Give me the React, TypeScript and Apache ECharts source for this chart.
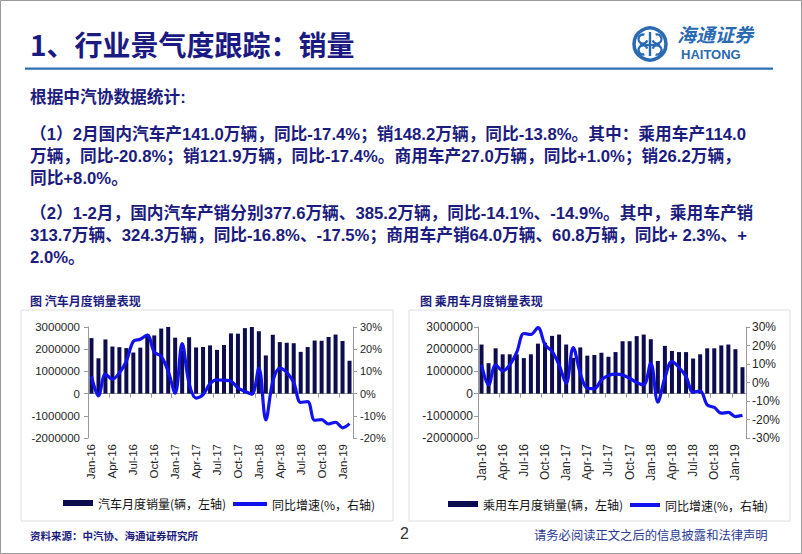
import React, { useEffect, useRef } from "react";
import * as echarts from "echarts";

const months = [
  "Jan-16","Feb-16","Mar-16","Apr-16","May-16","Jun-16","Jul-16","Aug-16","Sep-16","Oct-16","Nov-16","Dec-16",
  "Jan-17","Feb-17","Mar-17","Apr-17","May-17","Jun-17","Jul-17","Aug-17","Sep-17","Oct-17","Nov-17","Dec-17",
  "Jan-18","Feb-18","Mar-18","Apr-18","May-18","Jun-18","Jul-18","Aug-18","Sep-18","Oct-18","Nov-18","Dec-18",
  "Jan-19","Feb-19",
];

const autoSales = [
  2500000, 1590000, 2440000, 2120000, 2090000, 2050000, 1850000, 2070000, 2630000, 2620000, 2930000, 3050000,
  2520000, 1940000, 2540000, 2080000, 2100000, 2170000, 1970000, 2190000, 2710000, 2700000, 2950000, 3050000,
  2810000, 1720000, 2650000, 2320000, 2290000, 2270000, 1880000, 2100000, 2390000, 2380000, 2550000, 2660000,
  2370000, 1480000,
];

const autoYoy = [
  7.8, -1.0, 8.8, 6.5, 9.3, 14.6, 23.5, 24.5, 26.4, 18.7, 16.7, 10.0,
  0.2, 22.5, 4.5, -2.0, -0.5, 4.5, 6.2, 6.0, 5.6, 2.5, 1.0, -0.3,
  11.6, -11.9, 5.5, 11.5, 9.6, 5.0, -4.0, -3.6, -12.0, -11.7, -13.7, -12.9,
  -15.4, -13.5,
];

const pcSales = [
  2210000, 1370000, 2040000, 1770000, 1770000, 1770000, 1600000, 1770000, 2250000, 2290000, 2600000, 2660000,
  2210000, 1610000, 2080000, 1710000, 1740000, 1840000, 1660000, 1870000, 2360000, 2360000, 2590000, 2660000,
  2450000, 1470000, 2150000, 1920000, 1870000, 1870000, 1580000, 1770000, 2040000, 2040000, 2170000, 2210000,
  2000000, 1190000,
];

const pcYoy = [
  9.5, -1.3, 9.5, 6.3, 9.5, 16.4, 26.5, 26.0, 29.7, 20.4, 16.8, 9.5,
  -0.4, 18.9, 5.0, -3.1, -3.3, 1.4, 3.8, 4.5, 4.1, 2.3, 0.0, -1.3,
  10.5, -10.6, 2.5, 11.4, 8.1, 3.2, -5.2, -4.5, -12.1, -13.5, -16.6, -16.2,
  -18.4, -17.8,
];

const salesAxis = { min: -2000000, max: 3000000, interval: 1000000 };
const autoYoyAxis = { min: -20, max: 30, interval: 10 };
const pcYoyAxis = { min: -30, max: 30, interval: 10 };

const titleText = "1、行业景气度跟踪：销量";
const bodyLines = [
  "根据中汽协数据统计:",
  "（1）2月国内汽车产141.0万辆，同比-17.4%；销148.2万辆，同比-13.8%。其中：乘用车产114.0",
  "万辆，同比-20.8%；销121.9万辆，同比-17.4%。商用车产27.0万辆，同比+1.0%；销26.2万辆，",
  "同比+8.0%。",
  "（2）1-2月，国内汽车产销分别377.6万辆、385.2万辆，同比-14.1%、-14.9%。其中，乘用车产销",
  "313.7万辆、324.3万辆，同比-16.8%、-17.5%；商用车产销64.0万辆、60.8万辆，同比+ 2.3%、+",
  "2.0%。",
];
const bodyY = [97, 134, 156, 178, 213, 235, 257];

const chartTitles = ["图 汽车月度销量表现", "图 乘用车月度销量表现"];
const seriesNames = ["汽车月度销量(辆，左轴)", "同比增速(%，右轴)", "乘用车月度销量(辆，左轴)"];
const footerSource = "资料来源：中汽协、海通证券研究所";
const footerNote = "请务必阅读正文之后的信息披露和法律声明";
const pageNo = "2";

const LAT = '"Liberation Sans", Arial, "Noto Sans CJK SC", sans-serif';
const CJK = '"Noto Sans CJK SC", "Liberation Sans", sans-serif';
const NAVY = "#1c1c7e";
const BAR = "#0c0c4e";
const LINE = "#1212ee";
const AXIS = "#9a9a9a";
const LOGO = "#2a6ab2";

function txt(x: number, y: number, text: string, font: string, fill: string, align = "left") {
  return {
    type: "text",
    x,
    y,
    silent: true,
    style: {
      text,
      font,
      fill,
      align,
      verticalAlign: "middle",
      textAlign: align,
      textVerticalAlign: "middle",
    },
  };
}

function buildOption() {
  const xLabelAxis = (grid: number, fs: number) => ({
    type: "category",
    gridIndex: grid,
    data: months,
    position: "bottom",
    axisLine: { show: false, onZero: false },
    axisTick: { show: false },
    axisLabel: { interval: 2, rotate: 90, fontSize: fs, color: "#262626", margin: 6, fontFamily: LAT },
  });
  const xZeroAxis = (grid: number, yIdx: number) => ({
    type: "category",
    gridIndex: grid,
    data: months,
    position: "bottom",
    axisLine: { show: true, onZero: true, onZeroAxisIndex: yIdx, lineStyle: { color: AXIS, width: 1 } },
    axisTick: { show: true, interval: 2, length: 4, lineStyle: { color: AXIS } },
    axisLabel: { show: false },
  });
  const yAx = (grid: number, pos: string, rng: any, fs: number, margin: number, pct: boolean) => ({
    type: "value",
    gridIndex: grid,
    position: pos,
    min: rng.min,
    max: rng.max,
    interval: rng.interval,
    axisLine: { show: true, lineStyle: { color: AXIS } },
    axisTick: { show: true, length: 4, lineStyle: { color: AXIS } },
    splitLine: { show: false },
    axisLabel: {
      fontSize: fs,
      color: "#262626",
      margin,
      fontFamily: LAT,
      formatter: (v: number) => (pct ? `${v}%` : String(v)),
    },
  });
  const legendBase = { padding: 0, selectedMode: false, icon: "rect", textStyle: { fontSize: 12, color: "#111", fontFamily: CJK } };

  return {
    animation: false,
    backgroundColor: "#ffffff",
    grid: [
      { left: 88, top: 327, width: 265, height: 111 },
      { left: 478, top: 327, width: 268, height: 111 },
    ],
    xAxis: [xLabelAxis(0, 11.5), xZeroAxis(0, 0), xLabelAxis(1, 12), xZeroAxis(1, 2)],
    yAxis: [
      yAx(0, "left", salesAxis, 11.5, 8, false),
      yAx(0, "right", autoYoyAxis, 11, 7, true),
      yAx(1, "left", salesAxis, 12, 5, false),
      yAx(1, "right", pcYoyAxis, 12, 6, true),
    ],
    legend: [
      { ...legendBase, left: 63, top: 497, itemWidth: 30, itemHeight: 6, data: [seriesNames[0]] },
      { ...legendBase, left: 233, top: 498, itemWidth: 34, itemHeight: 4, data: [seriesNames[1]] },
      { ...legendBase, left: 448, top: 498, itemWidth: 30, itemHeight: 6, data: [seriesNames[2]] },
      { ...legendBase, left: 630, top: 499, itemWidth: 30, itemHeight: 4, data: [seriesNames[1]] },
    ],
    series: [
      { type: "bar", name: seriesNames[0], xAxisIndex: 0, yAxisIndex: 0, data: autoSales, barWidth: 4, itemStyle: { color: BAR } },
      { type: "line", name: seriesNames[1], xAxisIndex: 0, yAxisIndex: 1, data: autoYoy, smooth: 0.35, symbol: "none", z: 5, lineStyle: { color: LINE, width: 3.2 }, itemStyle: { color: LINE } },
      { type: "bar", name: seriesNames[2], xAxisIndex: 2, yAxisIndex: 2, data: pcSales, barWidth: 4, itemStyle: { color: BAR } },
      { type: "line", name: seriesNames[1], xAxisIndex: 2, yAxisIndex: 3, data: pcYoy, smooth: 0.35, symbol: "none", z: 5, lineStyle: { color: LINE, width: 3.2 }, itemStyle: { color: LINE } },
    ],
    graphic: [
      { type: "rect", silent: true, shape: { x: 0.5, y: 0.5, width: 801, height: 553 }, style: { fill: "none", stroke: "#9a9a9a", lineWidth: 1 } },
      txt(30, 44, titleText, `bold 28px ${CJK}`, "#1a1a82"),
      // logo
      { type: "circle", silent: true, shape: { cx: 650, cy: 44, r: 16 }, style: { fill: "#fff", stroke: LOGO, lineWidth: 3.5 } },
      { type: "line", silent: true, shape: { x1: 650, y1: 32, x2: 650, y2: 56 }, style: { stroke: LOGO, lineWidth: 2.4 } },
      { type: "line", silent: true, shape: { x1: 640, y1: 45, x2: 660, y2: 45 }, style: { stroke: LOGO, lineWidth: 2.2 } },
      { type: "arc", silent: true, shape: { cx: 643, cy: 39, r: 4.5, startAngle: Math.PI * 0.1, endAngle: Math.PI * 1.6, clockwise: true }, style: { fill: "none", stroke: LOGO, lineWidth: 2.4 } },
      { type: "arc", silent: true, shape: { cx: 657, cy: 39, r: 4.5, startAngle: Math.PI * 1.4, endAngle: Math.PI * 0.9, clockwise: true }, style: { fill: "none", stroke: LOGO, lineWidth: 2.4 } },
      { type: "arc", silent: true, shape: { cx: 643, cy: 50, r: 4.5, startAngle: Math.PI * 0.4, endAngle: Math.PI * 1.9, clockwise: true }, style: { fill: "none", stroke: LOGO, lineWidth: 2.4 } },
      { type: "arc", silent: true, shape: { cx: 657, cy: 50, r: 4.5, startAngle: Math.PI * 1.1, endAngle: Math.PI * 0.6, clockwise: true }, style: { fill: "none", stroke: LOGO, lineWidth: 2.4 } },
      txt(677, 33, "海通证券", `italic bold 19px ${CJK}`, LOGO),
      txt(681, 54, "HAITONG", `bold 13px ${LAT}`, LOGO),
      // rule
      { type: "rect", silent: true, shape: { x: 25, y: 67.5, width: 748, height: 2.2 }, style: { fill: "#2f6eb5" } },
      // body
      ...bodyLines.map((t, i) => txt(30, bodyY[i], t, `bold 16.7px ${LAT}`, NAVY)),
      // chart boxes
      { type: "rect", silent: true, shape: { x: 21, y: 310, width: 372, height: 211 }, style: { fill: "none", stroke: "#dedede", lineWidth: 1 } },
      { type: "rect", silent: true, shape: { x: 409, y: 310, width: 381, height: 211 }, style: { fill: "none", stroke: "#dedede", lineWidth: 1 } },
      txt(30, 300, chartTitles[0], `bold 12px ${CJK}`, NAVY),
      txt(420, 300, chartTitles[1], `bold 12px ${CJK}`, NAVY),
      // footer
      txt(30, 535, footerSource, `bold 10.5px ${CJK}`, NAVY),
      txt(400, 533, pageNo, `16px ${LAT}`, "#333"),
      txt(534, 535, footerNote, `12.3px ${CJK}`, "#2b3a94"),
    ],
  };
}

export default function App() {
  const ref = useRef<HTMLDivElement>(null);
  useEffect(() => {
    if (!ref.current) return;
    const chart = echarts.init(ref.current, undefined, { renderer: "svg" });
    chart.setOption(buildOption() as any);
    return () => chart.dispose();
  }, []);
  return (
    <div
      ref={ref}
      style={{ position: "fixed", left: 0, top: 0, width: 802, height: 554, background: "#fff" }}
    />
  );
}
